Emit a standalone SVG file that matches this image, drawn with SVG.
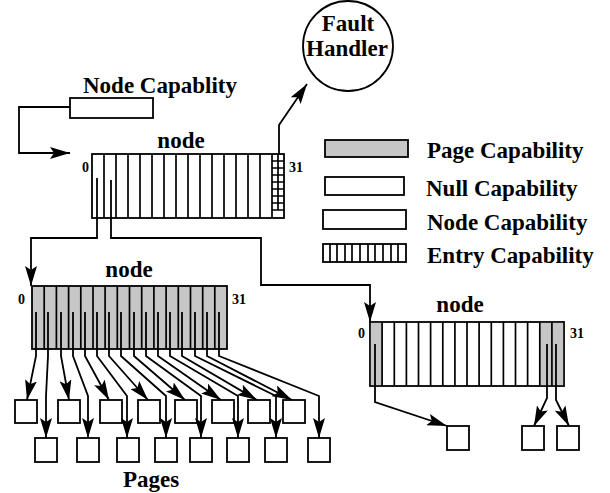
<svg xmlns="http://www.w3.org/2000/svg" width="610" height="493" viewBox="0 0 610 493">
<style>
.t{font-family:"Liberation Serif","Times New Roman",serif;font-weight:bold;fill:#000}
.lbl{font-size:23px}
.num{font-size:14px}
.box{fill:#fff;stroke:#000;stroke-width:1.8}
.gray{fill:#c6c6c6;stroke:#000;stroke-width:1.8}
.div{stroke:#000;stroke-width:1.7;fill:none}
.ptr{stroke:#000;stroke-width:1.8;fill:none}
.con{stroke:#000;stroke-width:1.8;fill:none;marker-end:url(#ah)}
</style>
<defs>
<marker id="ah" viewBox="0 0 20 12" refX="20" refY="6" markerWidth="20" markerHeight="12" orient="auto" markerUnits="userSpaceOnUse">
<path d="M0,0 L20,6 L0,12 L4,6 z" fill="#000"/>
</marker>
</defs>

<g id="fault-handler">
<circle cx="348" cy="46" r="45" fill="#fff" stroke="#000" stroke-width="1.8"/>
<text class="t lbl" x="348" y="31" text-anchor="middle">Fault</text>
<text class="t lbl" x="347" y="56" text-anchor="middle">Handler</text>
</g>

<g id="node-capability">
<text class="t lbl" x="160" y="93" text-anchor="middle">Node Capablity</text>
<rect class="box" x="70" y="98" width="83" height="20"/>
</g>

<g id="legend">
<rect class="gray" x="325" y="140" width="83" height="17"/>
<text class="t lbl" x="427" y="158">Page Capability</text>
<rect class="box" x="325" y="177" width="79" height="18"/>
<text class="t lbl" x="426" y="196">Null Capability</text>
<rect class="box" x="323" y="210" width="83" height="19"/>
<text class="t lbl" x="427" y="230">Node Capability</text>
<rect class="box" x="323" y="244" width="83" height="18"/>
<path class="div" d="M330,244V262M337,244V262M345,244V262M352,244V262M360,244V262M368,244V262M375,244V262M383,244V262M391,244V262M398,244V262"/>
<text class="t lbl" x="427" y="263">Entry Capability</text>
</g>

<g id="top-node">
<text class="t lbl" x="181" y="148" text-anchor="middle">node</text>
<rect class="box" x="92" y="154" width="192" height="64"/>
<path class="div" d="M104,154V218M116,154V218M128,154V218M140,154V218M152,154V218M164,154V218M176,154V218M188,154V218M200,154V218M212,154V218M224,154V218M236,154V218M248,154V218M260,154V218M272,154V218"/>
<path class="div" d="M278,154V210M272,161H284M272,168H284M272,175H284M272,182H284M272,189H284M272,196H284M272,203H284M272,210H284"/>
<path class="ptr" d="M97,178V218M111,180V218"/>
<text class="t num" x="82" y="172">0</text>
<text class="t num" x="289" y="172">31</text>
</g>

<g id="left-node">
<text class="t lbl" x="129" y="277" text-anchor="middle">node</text>
<rect class="gray" x="32" y="286" width="195" height="63"/>
<path class="div" d="M44.2,286V349M56.4,286V349M68.6,286V349M80.8,286V349M93,286V349M105.1,286V349M117.3,286V349M129.5,286V349M141.7,286V349M153.9,286V349M166.1,286V349M178.3,286V349M190.5,286V349M202.7,286V349M214.8,286V349"/>
<text class="t num" x="18" y="304">0</text>
<text class="t num" x="232" y="304">31</text>
</g>

<g id="right-node">
<text class="t lbl" x="460" y="312" text-anchor="middle">node</text>
<rect class="box" x="370" y="322" width="194" height="64"/>
<rect x="370.9" y="322.9" width="11.2" height="62.2" fill="#c6c6c6"/>
<rect x="540.2" y="322.9" width="22.9" height="62.2" fill="#c6c6c6"/>
<path class="div" d="M382.1,322V386M394.3,322V386M406.4,322V386M418.5,322V386M430.6,322V386M442.8,322V386M454.9,322V386M467,322V386M479.1,322V386M491.3,322V386M503.4,322V386M515.5,322V386M527.6,322V386M539.8,322V386M551.9,322V386"/>
<text class="t num" x="358" y="338">0</text>
<text class="t num" x="570" y="338">31</text>
</g>

<g id="pages">
<rect class="box" x="15" y="400" width="22" height="23"/>
<rect class="box" x="58" y="400" width="22" height="23"/>
<rect class="box" x="100" y="400" width="22" height="23"/>
<rect class="box" x="138" y="400" width="22" height="23"/>
<rect class="box" x="175" y="400" width="22" height="23"/>
<rect class="box" x="212" y="400" width="22" height="23"/>
<rect class="box" x="248" y="400" width="22" height="23"/>
<rect class="box" x="283" y="400" width="22" height="23"/>
<rect class="box" x="35" y="438" width="22" height="24"/>
<rect class="box" x="77" y="438" width="22" height="24"/>
<rect class="box" x="117" y="438" width="22" height="24"/>
<rect class="box" x="155" y="438" width="22" height="24"/>
<rect class="box" x="190" y="438" width="22" height="24"/>
<rect class="box" x="227" y="438" width="22" height="24"/>
<rect class="box" x="265" y="438" width="22" height="24"/>
<rect class="box" x="308" y="438" width="22" height="24"/>
<text class="t lbl" x="151" y="487" text-anchor="middle">Pages</text>
</g>

<g id="right-pages">
<rect class="box" x="447" y="426" width="22" height="24"/>
<rect class="box" x="522" y="426" width="22" height="24"/>
<rect class="box" x="557" y="426" width="22" height="24"/>
</g>

<g id="connectors">
<path class="con" d="M70,107H19V153H70"/>
<path class="con" d="M279,154V125L307,84"/>
<path class="con" d="M97,218V238H31V286"/>
<path class="con" d="M111,218V238H261V285H370V322"/>
<path class="con" d="M36,312V356L27,400"/>
<path class="con" d="M48,312V356L46,396V438"/>
<path class="con" d="M61,312V356L69,400"/>
<path class="con" d="M73,312V356L88,396V438"/>
<path class="con" d="M85,312V356L109,400"/>
<path class="con" d="M97,312V356L127,396V438"/>
<path class="con" d="M109,312V356L148,400"/>
<path class="con" d="M121,312V356L166,396V438"/>
<path class="con" d="M134,312V356L185,400"/>
<path class="con" d="M146,312V356L201,396V438"/>
<path class="con" d="M158,312V356L221,400"/>
<path class="con" d="M170,312V356L238,396V438"/>
<path class="con" d="M182,312V356L257,400"/>
<path class="con" d="M195,312V356L276,396V438"/>
<path class="con" d="M207,312V356L292,400"/>
<path class="con" d="M219,312V356L319,396V438"/>
<path class="con" d="M375,344V402L447,426"/>
<path class="con" d="M547,344V398L534,426"/>
<path class="con" d="M556,344V400L569,426"/>
</g>
</svg>
